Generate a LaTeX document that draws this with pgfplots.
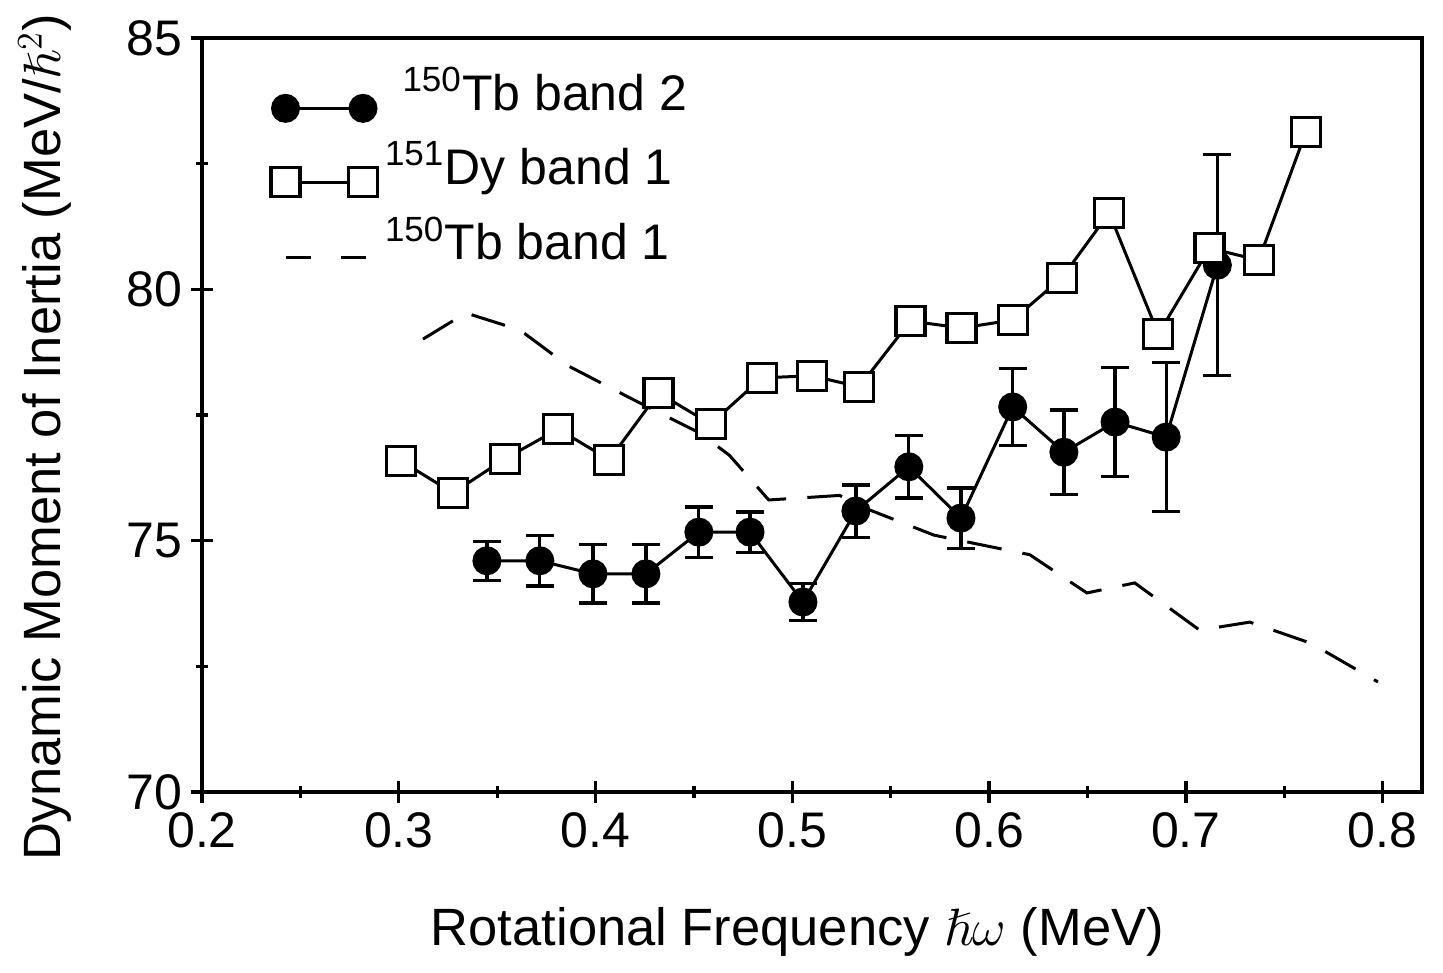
\documentclass[border=0pt]{standalone}
\usepackage{pgfplots}
\usepackage{pgfplotstable}
\pgfplotsset{compat=1.18}
\usepackage{amssymb}
\usepackage{fontspec}
\setmainfont{Liberation Sans}

\pgfplotstableread{
x y
0.301 76.59
0.3275 75.95
0.354 76.63
0.381 77.22
0.407 76.61
0.432 77.94
0.4585 77.32
0.4845 78.24
0.510 78.28
0.534 78.06
0.560 79.37
0.586 79.23
0.612 79.39
0.637 80.23
0.661 81.52
0.686 79.11
0.712 80.82
0.737 80.58
0.761 83.13
}\dyband

\pgfplotstableread{
x y e
0.3448 74.60 0.39
0.3717 74.60 0.50
0.3987 74.34 0.58
0.4256 74.34 0.58
0.4525 75.17 0.50
0.4785 75.17 0.40
0.5054 73.78 0.37
0.5323 75.59 0.52
0.5592 76.47 0.62
0.5857 75.45 0.60
0.612 77.66 0.76
0.638 76.76 0.84
0.664 77.36 1.08
0.690 77.06 1.48
0.716 80.48 2.20
}\tbtwo

\pgfplotstableread{
x y
0.3123 79.01
0.3341 79.53
0.3616 79.19
0.386 78.48
0.4175 77.84
0.453 77.14
0.468 76.70
0.488 75.81
0.524 75.90
0.5394 75.61
0.572 75.11
0.6207 74.72
0.6497 73.96
0.674 74.16
0.707 73.22
0.7325 73.38
0.7635 72.96
0.7976 72.19
}\tbone

\begin{document}
\begin{tikzpicture}
\begin{axis}[
  name=ax,
  scale only axis,
  width=488pt, height=301.6pt,
  xmin=0.2, xmax=0.82, ymin=70, ymax=85,
  xtick={0.2,0.3,0.4,0.5,0.6,0.7,0.8},
  xticklabels={0.2,0.3,0.4,0.5,0.6,0.7,0.8},
  ytick={70,75,80,85},
  minor xtick={0.25,0.35,0.45,0.55,0.65,0.75},
  minor ytick={72.5,77.5,82.5},
  xtick pos=bottom, ytick pos=left,
  tick align=center,
  major tick length=9pt, minor tick length=4.5pt,
  every tick/.style={black, line width=1.3pt},
  axis line style={line width=1.6pt},
  /pgf/number format/assume math mode=true,
  tick label style={font=\fontsize{20}{24}\selectfont},
  label style={font=\fontsize{21}{25}\selectfont},
  xlabel={Rotational Frequency $\hslash\omega$ (MeV)},
  ylabel={Dynamic Moment of Inertia (MeV/$\hslash^2$)},
  xlabel style={at={(axis description cs:0.488,-0.186)}, anchor=center},
  ylabel style={at={(axis description cs:-0.1287,0.47)}, anchor=center},
  legend style={at={(axis description cs:0.05,0.975)}, anchor=north west,
    draw=none, fill=none, row sep=6pt, column sep=1pt,
    font=\fontsize{20}{24}\selectfont},
  legend cell align=left,
  legend image code/.code={\draw[mark repeat=2,mark phase=1] plot coordinates {(0pt,-7pt) (15.5pt,-7pt) (31pt,-7pt)};},
]
\addplot[black, line width=1.2pt, mark=*, mark size=5.2pt,
  mark options={solid, fill=black},
  error bars/.cd, y dir=both, y explicit,
  error bar style={line width=1.3pt, black},
  error mark options={rotate=90, mark size=5.6pt, line width=1.3pt, black}]
  table[x=x, y=y, y error=e] {\tbtwo};
\addlegendentry{\hspace{7pt}\textsuperscript{150}Tb band 2}
\addplot[black, line width=1.2pt, mark=square*, mark size=5.8pt,
  mark options={solid, fill=white, line width=1.3pt}]
  table[x=x, y=y] {\dyband};
\addlegendentry{\textsuperscript{151}Dy band 1}
\addplot[black, line width=1.2pt, dash pattern=on 14pt off 8.5pt,
  legend image code/.code={\draw[dash pattern=on 10pt off 12pt] (0pt,-7pt) -- (32pt,-7pt);}]
  table[x=x, y=y] {\tbone};
\addlegendentry{\textsuperscript{150}Tb band 1}
\end{axis}
\pgfresetboundingbox
\path ([shift={(-80.8pt,-72pt)}]ax.south west) rectangle ([shift={(8.4pt,15.2pt)}]ax.north east);
\end{tikzpicture}
\end{document}
